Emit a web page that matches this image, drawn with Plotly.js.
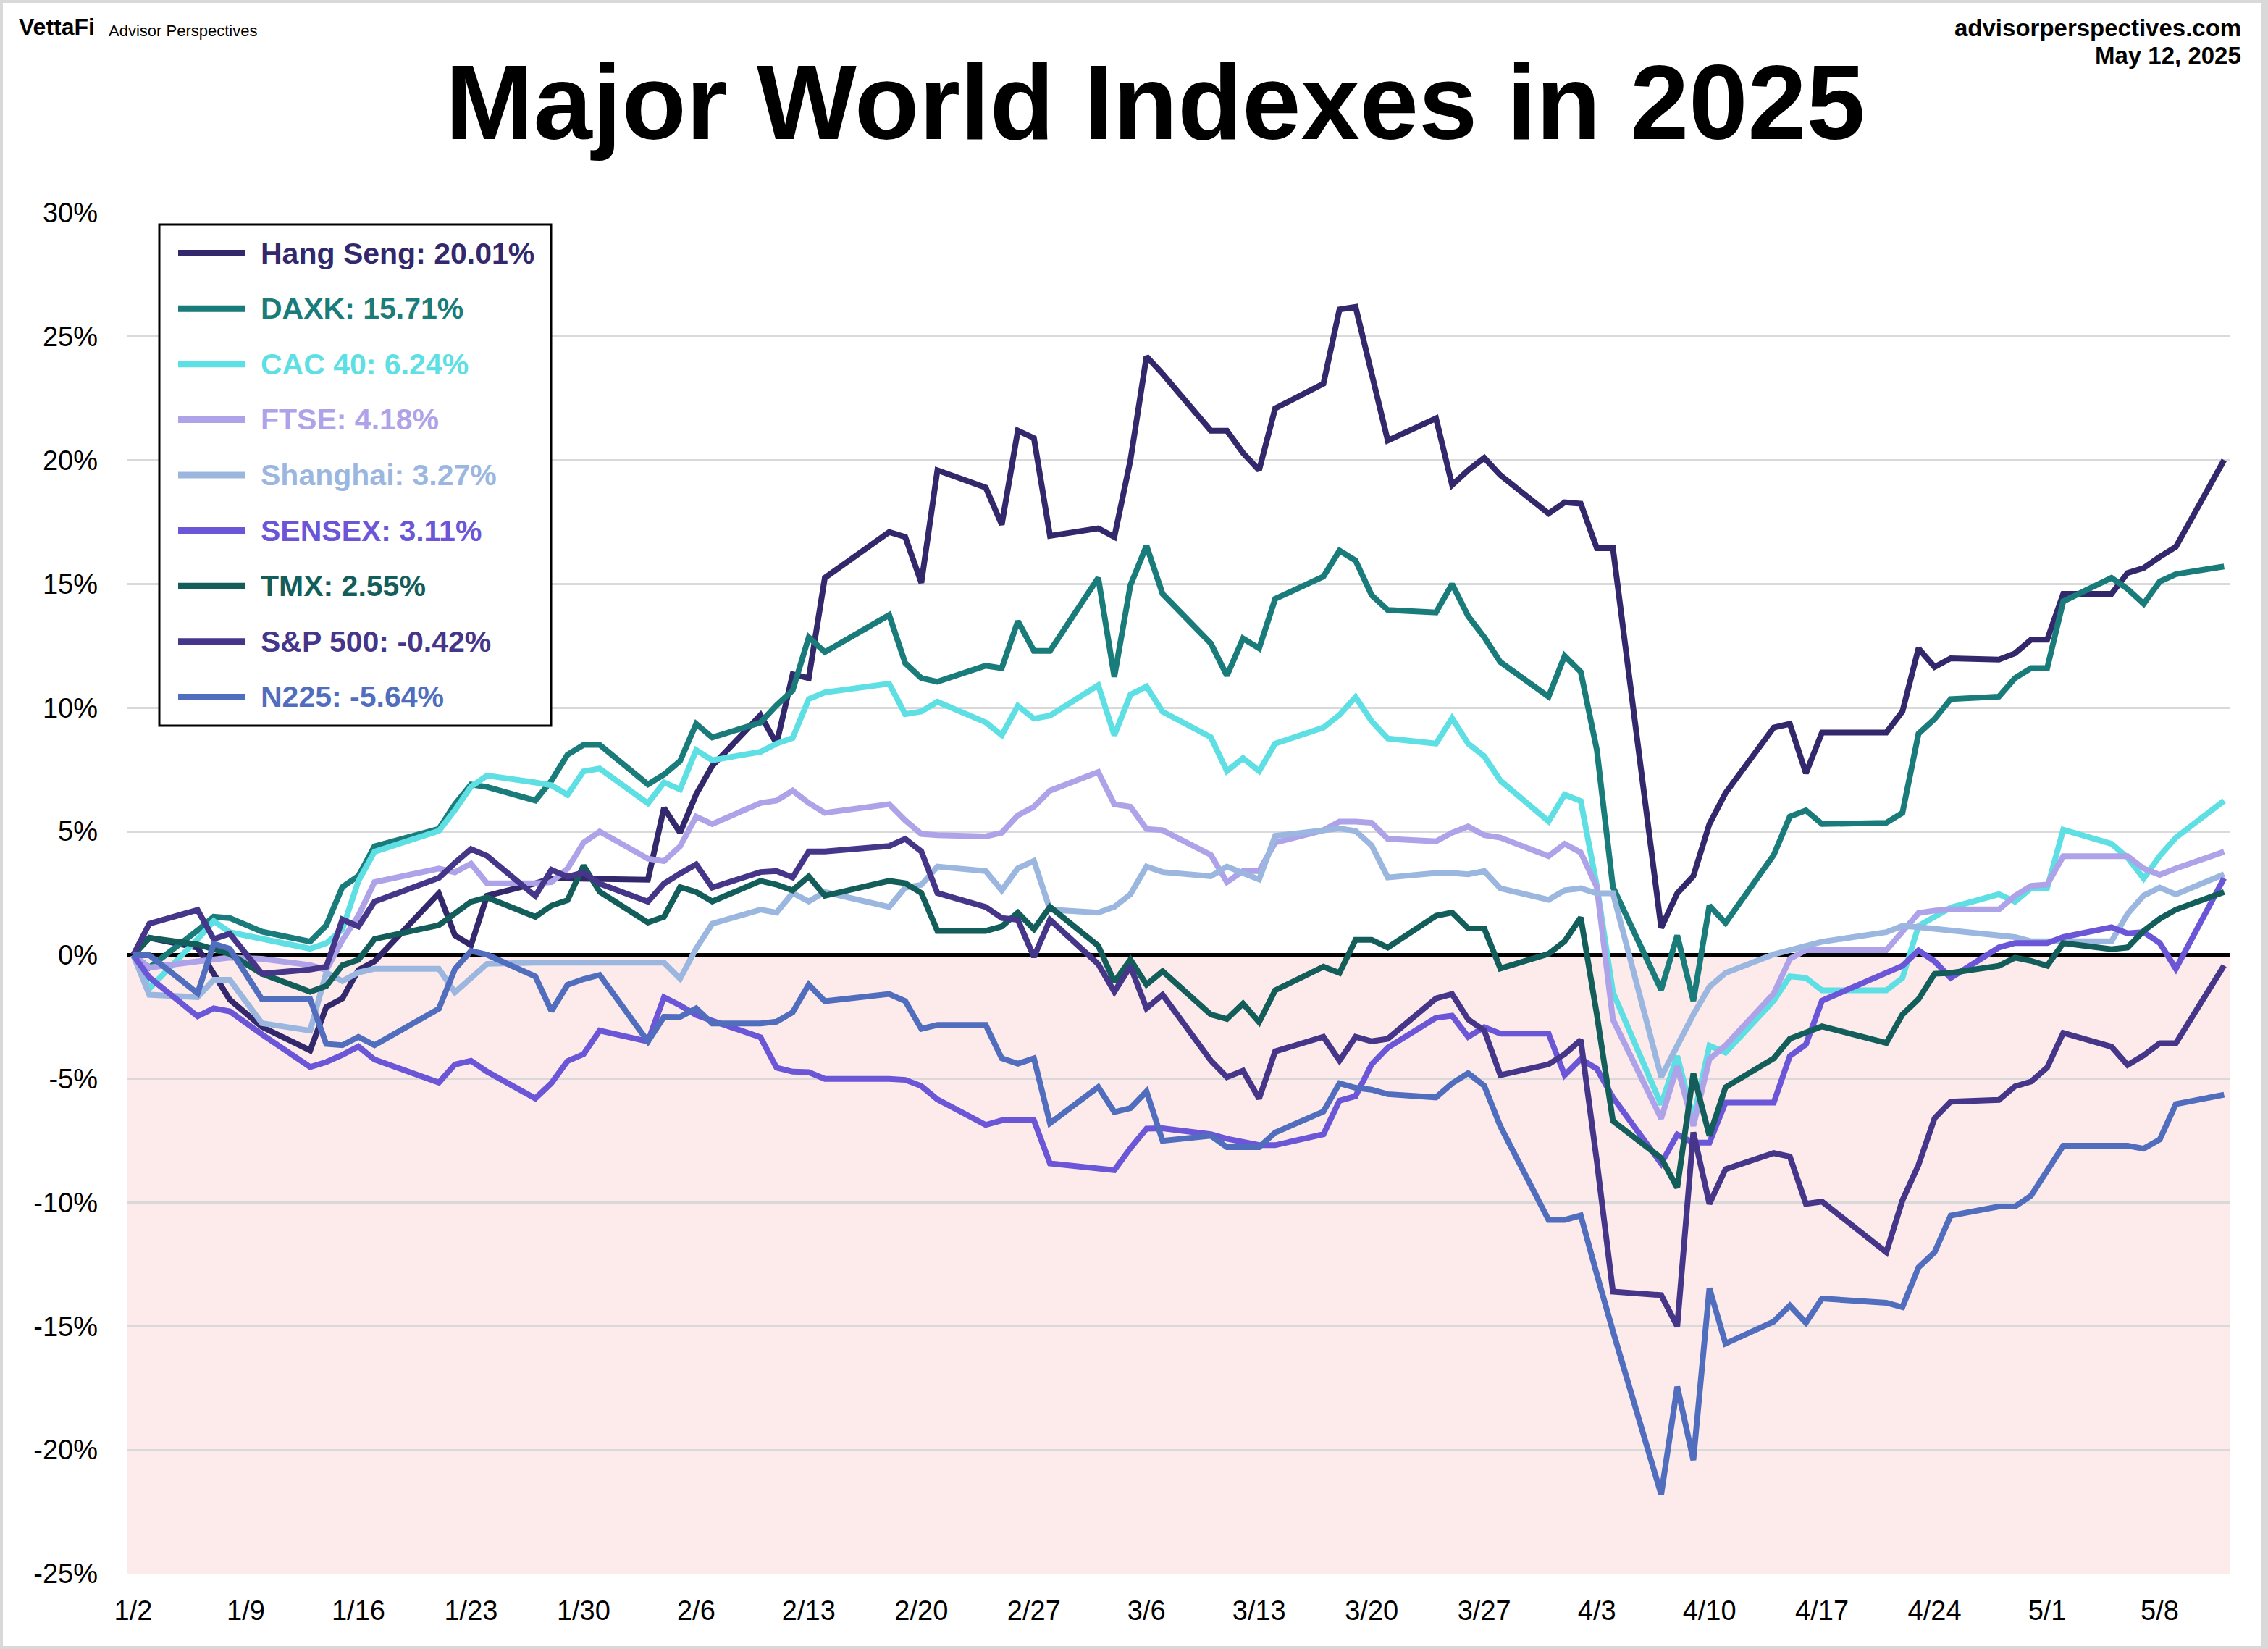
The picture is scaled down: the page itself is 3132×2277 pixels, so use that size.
<!DOCTYPE html>
<html><head><meta charset="utf-8">
<script src="https://cdn.plot.ly/plotly-3.0.1.min.js"></script>
<style>
html,body{margin:0;padding:0;background:#d9d9d9;width:3132px;height:2277px;overflow:hidden}
#chart{position:absolute;left:4px;top:4px;width:3119px;height:2269px;background:#fff}
</style></head><body><div id="chart"></div>
<script>
// ---- DATA (US trading days, % change since Jan 2, 2025) ----
const dates = ['2025-01-02','2025-01-03','2025-01-06','2025-01-07','2025-01-08','2025-01-10','2025-01-13','2025-01-14','2025-01-15','2025-01-16','2025-01-17','2025-01-21','2025-01-22','2025-01-23','2025-01-24','2025-01-27','2025-01-28','2025-01-29','2025-01-30','2025-01-31',
'2025-02-03','2025-02-04','2025-02-05','2025-02-06','2025-02-07','2025-02-10','2025-02-11','2025-02-12','2025-02-13','2025-02-14','2025-02-18','2025-02-19','2025-02-20','2025-02-21','2025-02-24','2025-02-25','2025-02-26','2025-02-27','2025-02-28',
'2025-03-03','2025-03-04','2025-03-05','2025-03-06','2025-03-07','2025-03-10','2025-03-11','2025-03-12','2025-03-13','2025-03-14','2025-03-17','2025-03-18','2025-03-19','2025-03-20','2025-03-21','2025-03-24','2025-03-25','2025-03-26','2025-03-27','2025-03-28','2025-03-31',
'2025-04-01','2025-04-02','2025-04-03','2025-04-04','2025-04-07','2025-04-08','2025-04-09','2025-04-10','2025-04-11','2025-04-14','2025-04-15','2025-04-16','2025-04-17','2025-04-21','2025-04-22','2025-04-23','2025-04-24','2025-04-25','2025-04-28','2025-04-29','2025-04-30',
'2025-05-01','2025-05-02','2025-05-05','2025-05-06','2025-05-07','2025-05-08','2025-05-09','2025-05-12'];

const hangSeng = [0,0.7,0.3,-0.8,-1.8,-2.9,-3.85,-2.1,-1.75,-0.6,-0.25,2.5,0.8,0.4,2.4,2.9,3.1,3.1,3.1,3.1,
3.05,5.95,4.95,6.5,7.65,9.7,8.55,11.35,11.2,15.25,17.1,16.9,15.05,19.6,18.9,17.4,21.2,20.9,16.95,
17.25,16.9,20.0,24.2,23.5,21.2,21.2,20.3,19.6,22.1,23.1,26.1,26.2,23.5,20.8,21.7,19.0,19.6,20.1,19.4,17.85,
18.3,18.25,16.45,16.45,1.1,2.5,3.2,5.3,6.55,9.2,9.35,7.35,9.0,9.0,9.85,12.4,11.65,12.0,11.95,12.2,12.75,
12.75,14.6,14.6,15.45,15.65,16.1,16.5,20.01];

const daxk = [0,-0.5,1.0,1.55,1.5,0.95,0.55,1.2,2.75,3.2,4.4,5.1,6.1,6.9,6.8,6.25,7.05,8.1,8.5,8.5,
6.9,7.3,7.85,9.35,8.8,9.4,10.1,10.7,12.85,12.25,13.75,11.8,11.2,11.05,11.7,11.6,13.5,12.3,12.3,
15.25,11.25,14.95,16.55,14.6,12.6,11.3,12.8,12.4,14.4,15.3,16.35,15.95,14.55,13.95,13.85,15.0,13.7,12.85,11.85,10.45,
12.1,11.45,8.3,2.75,-1.4,0.8,-1.85,2.0,1.3,4.05,5.6,5.85,5.3,5.35,5.75,8.95,9.55,10.35,10.45,11.2,11.6,
11.6,14.3,15.25,14.8,14.2,15.1,15.4,15.71];

const cac40 = [0,-1.35,0.65,1.38,0.93,0.65,0.26,0.48,1.04,3.0,4.18,5.02,5.86,6.81,7.26,6.98,6.87,6.48,7.43,7.54,
6.14,6.98,6.7,8.29,7.88,8.22,8.55,8.78,10.35,10.62,10.97,9.74,9.85,10.24,9.41,8.89,10.08,9.56,9.68,
10.91,8.89,10.53,10.86,9.84,8.81,7.44,7.96,7.44,8.55,9.2,9.71,10.43,9.45,8.76,8.55,9.58,8.55,8.04,7.06,5.41,
6.49,6.23,2.8,-1.5,-6.04,-4.08,-6.6,-3.66,-3.94,-1.84,-0.86,-0.92,-1.42,-1.42,-0.92,1.18,1.55,1.92,2.46,2.16,2.71,
2.71,5.07,4.5,3.94,3.1,4.01,4.75,6.24];

const ftse = [0,-0.5,-0.25,-0.15,-0.1,-0.15,-0.4,-0.6,0.6,1.6,2.95,3.5,3.35,3.7,2.9,2.9,2.95,3.5,4.55,5.0,
3.9,3.8,4.4,5.6,5.3,6.15,6.25,6.65,6.15,5.75,6.1,5.45,4.9,4.85,4.8,4.95,5.65,6.0,6.65,
7.4,6.1,6.0,5.1,5.05,4.05,2.95,3.4,3.4,4.55,5.05,5.4,5.4,5.35,4.7,4.6,4.95,5.2,4.85,4.75,4.0,
4.5,4.15,2.75,-2.6,-6.6,-4.5,-6.9,-4.2,-3.65,-1.55,-0.15,0.2,0.2,0.2,0.95,1.7,1.8,1.85,1.85,2.4,2.8,
2.85,4.0,4.0,4.0,3.5,3.25,3.5,4.18];

const shanghai = [0,-1.6,-1.7,-1.0,-1.0,-2.75,-3.05,-0.7,-1.05,-0.7,-0.55,-0.55,-1.5,-0.9,-0.35,-0.3,-0.3,-0.3,-0.3,-0.3,
-0.3,-0.3,-0.95,0.27,1.27,1.84,1.72,2.51,2.17,2.55,1.95,2.73,2.84,3.58,3.4,2.62,3.51,3.81,1.84,
1.72,1.95,2.46,3.58,3.36,3.19,3.58,3.32,3.06,4.82,5.07,5.12,5.02,4.43,3.14,3.32,3.32,3.27,3.4,2.7,2.24,
2.62,2.7,2.5,2.5,-4.92,-3.66,-2.4,-1.28,-0.72,0.03,0.2,0.4,0.54,0.93,1.18,1.13,1.06,0.98,0.81,0.73,0.56,
0.56,0.56,0.56,1.67,2.41,2.73,2.46,3.27];

const sensex = [0,-0.9,-2.47,-2.15,-2.27,-3.2,-4.52,-4.32,-4.03,-3.69,-4.22,-5.15,-4.42,-4.27,-4.71,-5.79,-5.17,-4.28,-4.0,-3.05,
-3.49,-1.7,-2.03,-2.42,-2.65,-3.32,-4.55,-4.71,-4.73,-5.0,-5.0,-5.04,-5.29,-5.83,-6.86,-6.68,-6.68,-6.68,-8.42,
-8.58,-8.69,-7.8,-7.01,-7.0,-7.24,-7.42,-7.55,-7.68,-7.68,-7.24,-5.88,-5.7,-4.41,-3.74,-2.53,-2.45,-3.3,-2.91,-3.17,-3.17,
-4.85,-4.2,-4.59,-5.75,-8.42,-7.25,-7.58,-7.58,-5.96,-5.96,-4.08,-3.61,-1.84,-0.75,-0.43,0.19,-0.25,-0.92,0.31,0.49,0.49,
0.49,0.73,1.13,0.88,0.93,0.49,-0.55,3.11];

const tmx = [0,0.7,0.43,0.25,0.05,-0.75,-1.48,-1.25,-0.41,-0.19,0.65,1.21,1.66,2.16,2.33,1.55,2.0,2.22,3.62,2.56,
1.32,1.55,2.75,2.55,2.17,3.0,2.85,2.62,3.18,2.4,3.0,2.91,2.51,0.98,0.98,1.16,1.72,1.05,1.95,
0.38,-1.08,-0.18,-1.19,-0.65,-2.4,-2.58,-1.96,-2.71,-1.42,-0.47,-0.72,0.62,0.62,0.31,1.59,1.72,1.08,1.08,-0.54,0.05,
0.56,1.52,-2.4,-6.7,-8.2,-9.4,-4.78,-7.3,-5.34,-4.17,-3.38,-3.16,-2.88,-3.55,-2.4,-1.78,-0.75,-0.72,-0.43,-0.1,-0.23,
-0.43,0.49,0.24,0.31,0.98,1.47,1.84,2.55];

const sp500 = [0,1.27,1.83,0.65,0.87,-0.75,-0.58,-0.47,1.44,1.16,2.16,3.12,3.73,4.29,4.01,2.39,3.45,3.17,3.34,2.89,
2.16,2.89,3.3,3.67,2.73,3.36,3.4,3.14,4.19,4.19,4.41,4.7,4.19,2.51,1.95,1.5,1.43,-0.07,1.43,
-0.36,-1.48,-0.45,-2.15,-1.6,-4.26,-4.93,-4.67,-5.8,-3.89,-3.3,-4.26,-3.3,-3.48,-3.38,-1.75,-1.57,-2.6,-3.04,-4.85,-4.41,
-4.0,-3.43,-8.33,-13.6,-13.74,-15.0,-7.16,-10.05,-8.65,-8.0,-8.14,-10.05,-9.96,-12.01,-9.91,-8.48,-6.59,-5.92,-5.85,-5.3,-5.11,
-4.54,-3.14,-3.7,-4.44,-4.05,-3.56,-3.56,-0.42];

const n225 = [0,0,-1.54,0.46,0.26,-1.78,-1.78,-3.59,-3.64,-3.3,-3.64,-2.17,-0.56,0.17,0.02,-0.86,-2.26,-1.2,-0.97,-0.8,
-3.49,-2.49,-2.5,-2.15,-2.76,-2.76,-2.69,-2.31,-1.19,-1.86,-1.57,-1.86,-2.98,-2.82,-2.82,-4.17,-4.39,-4.17,-6.79,
-5.33,-6.34,-6.18,-5.51,-7.5,-7.3,-7.76,-7.76,-7.76,-7.17,-6.32,-5.18,-5.36,-5.44,-5.62,-5.75,-5.18,-4.77,-5.28,-6.91,-10.7,
-10.7,-10.52,-12.9,-15.2,-21.8,-17.44,-20.41,-13.46,-15.7,-14.81,-14.16,-14.86,-13.88,-14.05,-14.23,-12.62,-12.01,-10.53,-10.16,-10.16,-9.72,
-8.68,-7.7,-7.7,-7.7,-7.82,-7.45,-6.02,-5.64];

const seriesNames = ['Hang Seng','DAXK','CAC 40','FTSE','Shanghai','SENSEX','TMX','S&P 500','N225'];
const seriesValues = [hangSeng, daxk, cac40, ftse, shanghai, sensex, tmx, sp500, n225];
const seriesColors = ['#32286B','#1A7B7B','#5EDFE3','#AEA2E8','#9BB7DF','#6A56D7','#135E5A','#45368A','#516EBE'];

const yTickVals = [-25,-20,-15,-10,-5,0,5,10,15,20,25,30];
const yTickText = ['-25%','-20%','-15%','-10%','-5%','0%','5%','10%','15%','20%','25%','30%'];
const xTickVals = ['2025-01-02','2025-01-09','2025-01-16','2025-01-23','2025-01-30','2025-02-06','2025-02-13','2025-02-20','2025-02-27','2025-03-06','2025-03-13','2025-03-20','2025-03-27','2025-04-03','2025-04-10','2025-04-17','2025-04-24','2025-05-01','2025-05-08'];
const xTickText = ['1/2','1/9','1/16','1/23','1/30','2/6','2/13','2/20','2/27','3/6','3/13','3/20','3/27','4/3','4/10','4/17','4/24','5/1','5/8'];

// ---- LAYOUT ----
const W = 3119, H = 2269;
const M = {l:172, r:43, t:290, b:100};
const PW = W - M.l - M.r, PH = H - M.t - M.b;
const OFF = 4; // div offset inside page
const px = x => (x - OFF - M.l) / PW;
const py = y => 1 - (y - OFF - M.t) / PH;
const FONT = '"Liberation Sans", Arial, Helvetica, sans-serif';

const traces = seriesNames.map((n, i) => ({
  type: 'scatter', mode: 'lines', x: dates, y: seriesValues[i], name: n,
  line: {color: seriesColors[i], width: 8}, hoverinfo: 'skip', showlegend: false
}));

const shapes = [
  {type:'rect', xref:'paper', yref:'y', x0:0, x1:1, y0:-25, y1:0, fillcolor:'#FDEBEB', line:{width:0}, layer:'below'},
  {type:'rect', xref:'paper', yref:'paper', x0:px(220), x1:px(761), y0:py(1002), y1:py(310), fillcolor:'#ffffff', line:{color:'#000', width:3}, layer:'above'}
];
const annotations = [
  {text:'<b>Major World Indexes in 2025</b>', xref:'paper', yref:'paper', x:px(1595), y:py(142), xanchor:'center', yanchor:'middle', showarrow:false, font:{family:FONT, size:146, color:'#000'}},
  {text:'<b>VettaFi</b>', xref:'paper', yref:'paper', x:px(24), y:py(37), xanchor:'left', yanchor:'middle', showarrow:false, font:{family:FONT, size:32, color:'#000'}},
  {text:'Advisor Perspectives', xref:'paper', yref:'paper', x:px(148), y:py(42), xanchor:'left', yanchor:'middle', showarrow:false, font:{family:FONT, size:22, color:'#000'}},
  {text:'<b>advisorperspectives.com</b>', xref:'paper', yref:'paper', x:px(3097), y:py(38), xanchor:'right', yanchor:'middle', showarrow:false, font:{family:FONT, size:33, color:'#000'}},
  {text:'<b>May 12, 2025</b>', xref:'paper', yref:'paper', x:px(3097), y:py(76), xanchor:'right', yanchor:'middle', showarrow:false, font:{family:FONT, size:33, color:'#000'}}
];
seriesNames.forEach((n, i) => {
  const yc = 349.6 + 76.6 * i;
  const last = seriesValues[i][seriesValues[i].length - 1];
  shapes.push({type:'line', xref:'paper', yref:'paper', x0:px(246), x1:px(339), y0:py(yc), y1:py(yc), line:{color:seriesColors[i], width:9}, layer:'above'});
  annotations.push({text:'<b>' + n.replace('&','&amp;') + ': ' + last.toFixed(2) + '%</b>', xref:'paper', yref:'paper', x:px(358), y:py(yc), xanchor:'left', yanchor:'middle', showarrow:false, font:{family:FONT, size:41, color:seriesColors[i]}});
});

const layout = {
  width: W, height: H, margin: M,
  paper_bgcolor: '#ffffff', plot_bgcolor: '#ffffff',
  font: {family: FONT, color: '#000'},
  showlegend: false,
  xaxis: {type:'date', range:['2025-01-01 15:21','2025-05-12 09:20'], tickvals:xTickVals, ticktext:xTickText,
          showgrid:false, zeroline:false, showline:false, ticks:'', tickfont:{size:38, color:'#000'}, ticklabelstandoff:25},
  yaxis: {range:[-25,30], tickvals:yTickVals, ticktext:yTickText, showgrid:true, gridcolor:'#D9D9D9', gridwidth:3,
          zeroline:true, zerolinecolor:'#000', zerolinewidth:6, showline:false, ticks:'', tickfont:{size:38, color:'#000'}, ticklabelstandoff:40},
  shapes: shapes, annotations: annotations
};
Plotly.newPlot('chart', traces, layout, {staticPlot:true, displayModeBar:false});
</script></body></html>
